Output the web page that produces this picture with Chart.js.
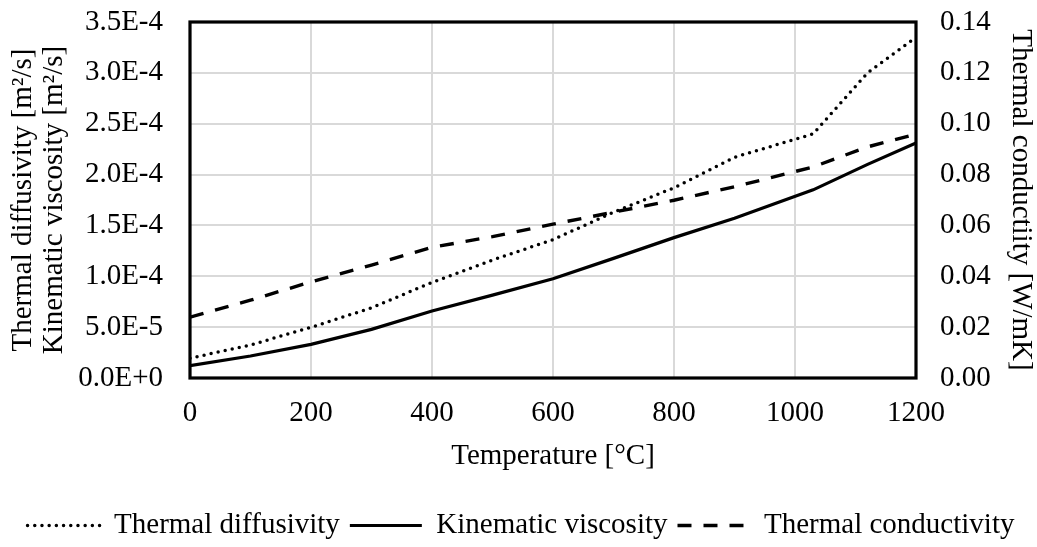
<!DOCTYPE html>
<html>
<head>
<meta charset="utf-8">
<script src="https://cdn.jsdelivr.net/npm/chart.js@4"></script>
<style>
  html, body { margin: 0; padding: 0; background: #fff; }
  #wrap { width: 1037px; height: 547px; }
</style>
</head>
<body>
<div id="wrap"><canvas id="chart"></canvas></div>
<script>
const temperature = [0, 100, 200, 300, 400, 500, 600, 700, 800, 900, 1030, 1120, 1200];

// m2/s
const thermalDiffusivity = [1.94e-5, 3.25e-5, 4.98e-5, 6.9e-5, 9.4e-5, 11.6e-5, 13.6e-5, 16.3e-5, 18.7e-5, 21.7e-5, 24.0e-5, 30.0e-5, 33.5e-5];
const kinematicViscosity = [1.22e-5, 2.16e-5, 3.31e-5, 4.78e-5, 6.58e-5, 8.15e-5, 9.75e-5, 11.76e-5, 13.8e-5, 15.7e-5, 18.5e-5, 21.0e-5, 23.1e-5];
// W/mK
const thermalConductivity = [0.0239, 0.0306, 0.0378, 0.0444, 0.0514, 0.0556, 0.0605, 0.0652, 0.0699, 0.0752, 0.083, 0.0909, 0.0959];

const leftTitle = ['Thermal diffusivity [m\u00B2/s]', 'Kinematic viscosity [m\u00B2/s]'];
const rightTitle = 'Thermal conductiity [W/mK]';
const xTitle = 'Temperature [\u00B0C]';

const serif = '"Liberation Serif", "Times New Roman", serif';
const gridColor = '#d9d9d9';

function toPoints(values) {
    return temperature.map((t, i) => ({ x: t, y: values[i] }));
}

// thick black frame round the plot area
const frame = {
    id: 'frame',
    afterDraw(chart) {
        const { ctx, chartArea } = chart;
        ctx.save();
        ctx.strokeStyle = '#000';
        ctx.lineWidth = 3.2;
        ctx.strokeRect(chartArea.left, chartArea.top, chartArea.right - chartArea.left, chartArea.bottom - chartArea.top);
        ctx.restore();
    }
};

Chart.defaults.font.family = serif;
Chart.defaults.font.size = 29;
Chart.defaults.color = '#000';

new Chart(document.getElementById('chart'), {
    type: 'line',
    data: {
        datasets: [{
            label: 'Thermal diffusivity',
            data: toPoints(thermalDiffusivity),
            yAxisID: 'y',
            borderColor: '#000',
            borderWidth: 3.5,
            borderDash: [0, 7.2],
            borderCapStyle: 'round',
            pointRadius: 0
        }, {
            label: 'Kinematic viscosity',
            data: toPoints(kinematicViscosity),
            yAxisID: 'y',
            borderColor: '#000',
            borderWidth: 3.2,
            pointRadius: 0
        }, {
            label: 'Thermal conductivity',
            data: toPoints(thermalConductivity),
            yAxisID: 'y1',
            borderColor: '#000',
            borderWidth: 3.4,
            borderDash: [14, 12],
            pointRadius: 0
        }]
    },
    options: {
        responsive: true,
        maintainAspectRatio: false,
        animation: false,
        layout: { padding: { left: 5, right: 0, top: 22, bottom: -3 } },
        plugins: {
            legend: {
                position: 'bottom',
                labels: {
                    usePointStyle: true,
                    pointStyle: 'line',
                    pointStyleWidth: 72,
                    padding: 10,
                    font: { size: 29 },
                    generateLabels(chart) {
                        const items = Chart.defaults.plugins.legend.labels.generateLabels(chart);
                        items.forEach(item => {
                            const ds = chart.data.datasets[item.datasetIndex];
                            item.lineDash = ds.borderDash || [];
                            item.lineCap = ds.borderCapStyle || 'butt';
                            item.lineWidth = ds.borderWidth;
                        });
                        return items;
                    }
                }
            },
            tooltip: { enabled: false }
        },
        scales: {
            x: {
                type: 'linear',
                min: 0,
                max: 1200,
                afterFit: s => { s.height = 123; },
                ticks: { stepSize: 200, padding: 18, callback: v => String(v) },
                grid: { color: gridColor, lineWidth: 2, drawTicks: false },
                border: { display: false },
                title: {
                    display: true,
                    text: xTitle,
                    font: { size: 29, lineHeight: 1.1 },
                    padding: { top: 9, bottom: 29 }
                }
            },
            y: {
                position: 'left',
                min: 0,
                max: 3.5e-4,
                afterFit: s => { s.width = 185; s.paddingTop = 0; },
                ticks: {
                    stepSize: 5e-5,
                    padding: 27,
                    callback: v => Number(v).toExponential(1).toUpperCase()
                },
                grid: { color: gridColor, lineWidth: 2, drawTicks: false },
                border: { display: false },
                title: {
                    display: true,
                    text: leftTitle,
                    font: { size: 29, lineHeight: 1.1 },
                    padding: { top: 2, bottom: 7 }
                }
            },
            y1: {
                position: 'right',
                min: 0,
                max: 0.14,
                afterFit: s => { s.width = 121; s.paddingTop = 0; },
                ticks: {
                    stepSize: 0.02,
                    padding: 24,
                    callback: v => Number(v).toFixed(2)
                },
                grid: { display: false, drawTicks: false },
                border: { display: false },
                title: {
                    display: true,
                    text: rightTitle,
                    font: { size: 29, lineHeight: 1.1 },
                    padding: { top: 0, bottom: 14 }
                }
            }
        }
    },
    plugins: [frame]
});
</script>
</body>
</html>
